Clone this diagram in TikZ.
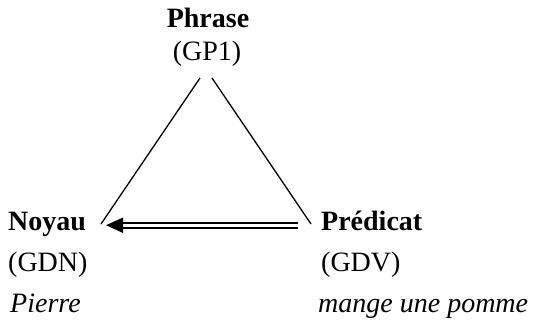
\documentclass[tikz,border=0pt]{standalone}
\usepackage{fontspec}
\setmainfont{Liberation Serif}
\begin{document}
\begin{tikzpicture}[x=1pt,y=-1pt,
  lbl/.style={anchor=base west,inner sep=0pt,font=\fontsize{28}{32}\selectfont},
  lblc/.style={anchor=base,inner sep=0pt,font=\fontsize{28}{32}\selectfont},
  edge/.style={line width=1.3pt},
  rail/.style={line width=2.2pt}]
\useasboundingbox (0,0) rectangle (533,327);
\node[lblc] (phrase) at (208,27) {\textbf{Phrase}};
\node[lblc] (gp1) at (207,60) {(GP1)};
\node[lbl] (noyau) at (8,230) {\textbf{Noyau}};
\node[lbl] (gdn) at (8,271) {(GDN)};
\node[lbl] (pierre) at (10,312) {\textit{Pierre}};
\node[lbl] (predicat) at (321,230) {\textbf{Prédicat}};
\node[lbl] (gdv) at (321,271) {(GDV)};
\node[lbl] (mange) at (318,312) {\textit{mange une pomme}};
\coordinate (topL) at (200,78);
\coordinate (topR) at (212,78);
\coordinate (botL) at (101,224);
\coordinate (botR) at (311,224);
\draw[edge] (topL) -- (botL);
\draw[edge] (topR) -- (botR);
\coordinate (s1) at (298,222.6);
\coordinate (e1) at (118,222.6);
\coordinate (s2) at (298,227.8);
\coordinate (e2) at (118,227.8);
\coordinate (tip) at (106,225.2);
\coordinate (bu) at (123,217.5);
\coordinate (bd) at (123,233);
\draw[rail] (s1) -- (e1);
\draw[rail] (s2) -- (e2);
\fill (tip) -- (bu) -- (bd) -- cycle;
\end{tikzpicture}
\end{document}
